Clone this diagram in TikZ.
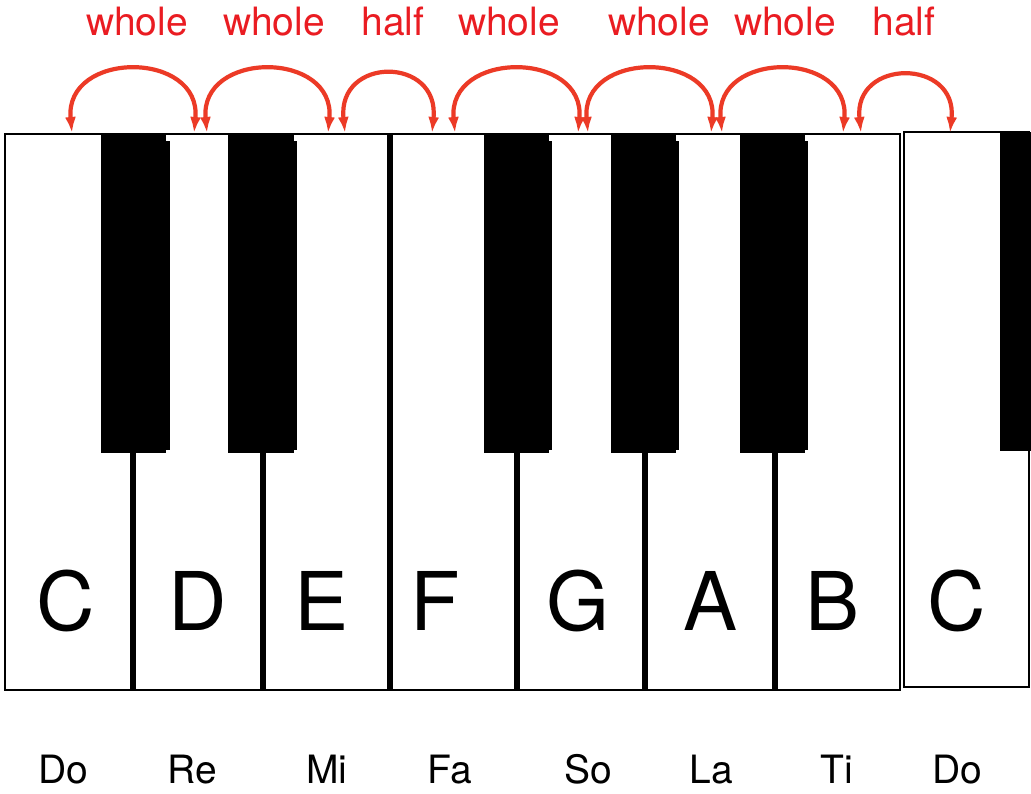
\documentclass[tikz,border=0pt]{standalone}
\usepackage{fontspec}
\setmainfont{TeX Gyre Heros}
\usetikzlibrary{arrows.meta,positioning}
\definecolor{stepred}{RGB}{234,28,34}
\definecolor{arcred}{RGB}{236,58,38}
\tikzset{
keyboard/.style={x=1pt,y=-1pt,line join=miter},
outline/.style={draw=black,line width=2.5pt},
divider/.style={draw=black,line width=5.5pt},
blackkey/.style={fill=black},
keyname/.style={font=\fontsize{81}{90}\selectfont,anchor=base,inner sep=0pt},
solfa/.style={font=\fontsize{39}{44}\selectfont,anchor=base,inner sep=0pt},
steplabel/.style={font=\fontsize{39}{44}\selectfont,anchor=base,inner sep=0pt,text=stepred},
interval/.style={<->,>={Latex[length=16pt,width=11pt]},draw=arcred,line width=4.2pt},
}

\begin{document}
\begin{tikzpicture}[keyboard]

    \fill[white] (0,0) rectangle (1031,793);
    \useasboundingbox (0,0) rectangle (1031,793);

    % white keys, first octave
    \draw[outline] (5,134) rectangle (900,690);
    \draw[divider] (133,453) -- (133,690);
    \draw[divider] (263,453) -- (263,690);
    \draw[divider] (390,134) -- (390,690);
    \draw[divider] (517,453) -- (517,690);
    \draw[divider] (645,453) -- (645,690);
    \draw[divider] (775,453) -- (775,690);

    % black keys
    \fill[blackkey] (101,135) rectangle (166,453);
    \fill[blackkey] (104,141) rectangle (170,450);
    \fill[blackkey] (228,135) rectangle (294,453);
    \fill[blackkey] (231,141) rectangle (297,450);
    \fill[blackkey] (484,135) rectangle (549,453);
    \fill[blackkey] (487,141) rectangle (552,450);
    \fill[blackkey] (611,135) rectangle (676,453);
    \fill[blackkey] (614,141) rectangle (679,450);
    \fill[blackkey] (740,135) rectangle (805,453);
    \fill[blackkey] (743,141) rectangle (808,450);

    % next octave
    \draw[outline] (904,132) rectangle (1029,687);
    \fill[blackkey] (1000,132) rectangle (1031,451);

    % letter names
    \node[keyname] (C1) at (66,630) {C};
    \node[keyname] (D) at (198,630) {D};
    \node[keyname] (E) at (322,630) {E};
    \node[keyname] (F) at (435,630) {F};
    \node[keyname] (G) at (578,630) {G};
    \node[keyname] (A) at (711,630) {A};
    \node[keyname] (B) at (833,630) {B};
    \node[keyname] (C2) at (957,630) {C};

    % solfege
    \node[solfa] (do1) at (63,783) {Do};
    \node[solfa] (re) at (192,783) {Re};
    \node[solfa] (mi) at (327,783) {Mi};
    \node[solfa] (fa) at (450,783) {Fa};
    \node[solfa] (so) at (588,783) {So};
    \node[solfa] (la) at (711,783) {La};
    \node[solfa] (ti) at (837,783) {Ti};
    \node[solfa] (do2) at (957,783) {Do};

    % steps
    \node[steplabel] (w1) at (137,35) {whole};
    \node[steplabel] (w2) at (274,35) {whole};
    \node[steplabel] (h1) at (393,35) {half};
    \node[steplabel] (w3) at (509,35) {whole};
    \node[steplabel] (w4) at (659,35) {whole};
    \node[steplabel] (w5) at (785,35) {whole};
    \node[steplabel] (h2) at (904,35) {half};

    \coordinate (c1-out) at (72,133);
    \coordinate (d-in) at (194,133);
    \coordinate (d-out) at (207,133);
    \coordinate (e-in) at (328,133);
    \coordinate (e-out) at (345,133);
    \coordinate (f-in) at (432,133);
    \coordinate (f-out) at (455,133);
    \coordinate (g-in) at (578,133);
    \coordinate (g-out) at (588,133);
    \coordinate (a-in) at (711,133);
    \coordinate (a-out) at (722,133);
    \coordinate (b-in) at (843,133);
    \coordinate (b-out) at (861,133);
    \coordinate (c2-in) at (950,133);

    \draw[interval] (c1-out) .. controls +(-8,-83) and +(8,-83) .. (d-in);
    \draw[interval] (d-out) .. controls +(-8,-83) and +(8,-83) .. (e-in);
    \draw[interval] (e-out) .. controls +(-8,-77) and +(8,-77) .. (f-in);
    \draw[interval] (f-out) .. controls +(-8,-83) and +(8,-83) .. (g-in);
    \draw[interval] (g-out) .. controls +(-8,-83) and +(8,-83) .. (a-in);
    \draw[interval] (a-out) .. controls +(-8,-83) and +(8,-83) .. (b-in);
    \draw[interval] (b-out) .. controls +(-8,-75) and +(8,-75) .. (c2-in);
\end{tikzpicture}
\end{document}
